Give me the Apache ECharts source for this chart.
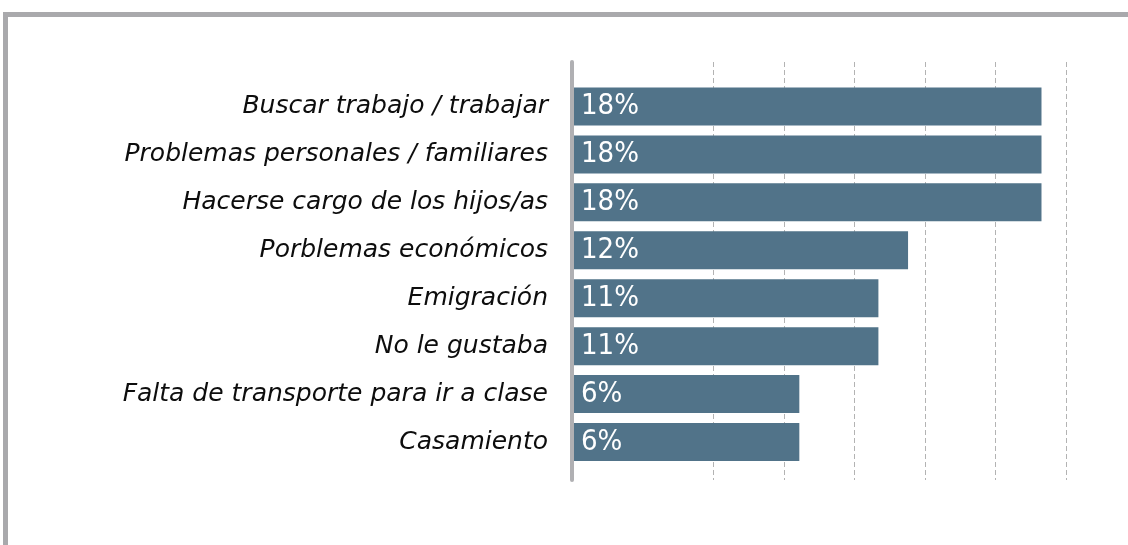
<!DOCTYPE html>
<html>
<head>
<meta charset="utf-8">
<script src="https://cdn.jsdelivr.net/npm/echarts@6/dist/echarts.min.js"></script>
<style>
  html, body { margin: 0; padding: 0; background: #fff; }
  #frame {
    position: absolute; left: 3px; top: 12px; right: 0; bottom: 0;
    border-top: 5px solid #a9a9ac; border-left: 5px solid #a9a9ac;
  }
  #chart { position: absolute; left: 0; top: 0; width: 1128px; height: 545px; }
</style>
</head>
<body>
<div id="frame"></div>
<div id="chart"></div>
<script>
// motivos de abandono (orden de arriba a abajo)
const categories = [
  'Buscar trabajo / trabajar',
  'Problemas personales / familiares',
  'Hacerse cargo de los hijos/as',
  'Porblemas económicos',
  'Emigración',
  'No le gustaba',
  'Falta de transporte para ir a clase',
  'Casamiento'
];
// largo de barra, en unidades de la grilla (0..7)
const barLength = [6.65, 6.65, 6.65, 4.76, 4.34, 4.34, 3.22, 3.22];
// etiquetas que muestra cada barra
const barLabels = ['18%', '18%', '18%', '12%', '11%', '11%', '6%', '6%'];

const axisMax = 7;

function showChart() {
  const myChart = echarts.init(document.getElementById('chart'));
  const option = {
    animation: false,
    grid: [
      { left: 572, right: 61.8, top: 82.5, height: 383.5 },   // barras
      { left: 572, right: 61.8, top: 62, height: 418 },       // linea del eje
      { left: 642.6, right: 61.8, top: 62, height: 418 }      // lineas de grilla
    ],
    xAxis: [
      { gridIndex: 0, type: 'value', min: 0, max: axisMax, show: false },
      { gridIndex: 1, type: 'value', min: 0, max: axisMax, show: false },
      {
        gridIndex: 2, type: 'value', min: 1, max: axisMax, interval: 1,
        axisLine: { show: false }, axisTick: { show: false }, axisLabel: { show: false },
        splitLine: {
          show: true, showMinLine: false,
          lineStyle: { color: '#b3b3b3', width: 1, type: [5, 3] }
        }
      }
    ],
    yAxis: [
      {
        gridIndex: 0, type: 'category', inverse: true, data: categories,
        axisLine: { show: false }, axisTick: { show: false },
        axisLabel: {
          margin: 24, color: '#0d0d0d',
          fontFamily: "'DejaVu Sans', sans-serif",
          fontStyle: 'italic', fontWeight: 500, fontSize: 25
        }
      },
      {
        gridIndex: 1, type: 'category', data: [''], z: 5,
        axisLine: { show: true, lineStyle: { color: '#b0b0b3', width: 4 } },
        axisTick: { show: false }, axisLabel: { show: false }
      },
      { gridIndex: 2, type: 'category', data: [''], show: false }
    ],
    series: [
      {
        type: 'bar',
        xAxisIndex: 0, yAxisIndex: 0,
        data: barLength,
        barWidth: 38,
        itemStyle: { color: '#517389' },
        label: {
          show: true,
          position: 'insideLeft',
          distance: 9,
          color: '#fff',
          fontFamily: "'DejaVu Sans Condensed', 'Roboto Condensed', 'DejaVu Sans', sans-serif",
          fontSize: 29,
          formatter: (p) => barLabels[p.dataIndex]
        }
      }
    ]
  };
  myChart.setOption(option);
}

showChart();
</script>
</body>
</html>
